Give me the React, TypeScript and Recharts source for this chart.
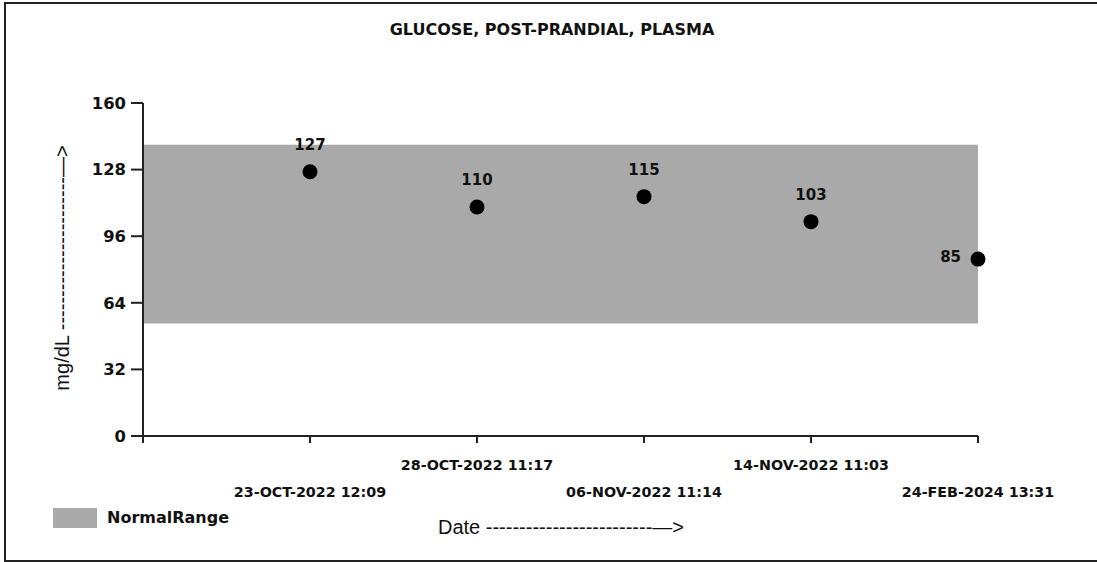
import React from "react";
import { ComposedChart, Scatter, XAxis, YAxis, ReferenceArea } from "recharts";

const chartTitle = "GLUCOSE, POST-PRANDIAL, PLASMA";
const dates = [
  "23-OCT-2022 12:09",
  "28-OCT-2022 11:17",
  "06-NOV-2022 11:14",
  "14-NOV-2022 11:03",
  "24-FEB-2024 13:31",
];
const values = [127, 110, 115, 103, 85];
const normalRange = [54, 140];
const yTicks = [0, 32, 64, 96, 128, 160];
const xTicks = [0, 1, 2, 3, 4, 5];
const yLabel = "mg/dL " + "-".repeat(23) + "—>";
const xLabel = "Date " + "-".repeat(25) + "—>";
const legendLabel = "NormalRange";

const data = dates.map((d, i) => ({ x: i + 1, date: d, value: values[i] }));

const BOLD_FONT = "'DejaVu Sans', Verdana, sans-serif";
const AXIS_FONT = "'Liberation Sans', Arial, sans-serif";
const BAND = "#a9a9a9";
const INK = "#111";

const XTick = (props: any) => {
  const { x, y, payload } = props;
  const v = payload.value;
  if (v < 1 || v > dates.length) return null;
  const lower = v % 2 === 1;
  return (
    <text
      x={x}
      y={y + (lower ? 49 : 22)}
      textAnchor="middle"
      dominantBaseline="central"
      fontFamily={BOLD_FONT}
      fontWeight={700}
      fontSize={14.3}
      fill={INK}
    >
      {dates[v - 1]}
    </text>
  );
};

const Dot = (props: any) => {
  const { cx, cy, payload } = props;
  const last = payload.x === dates.length;
  return (
    <g>
      <circle cx={cx} cy={cy} r={7.5} fill="#000" />
      <text
        x={last ? cx - 17 : cx}
        y={last ? cy - 2 : cy - 27}
        textAnchor={last ? "end" : "middle"}
        dominantBaseline="central"
        fontFamily={BOLD_FONT}
        fontWeight={700}
        fontSize={15}
        fill={INK}
      >
        {payload.value}
      </text>
    </g>
  );
};

export default function App() {
  return (
    <div
      style={{
        position: "absolute",
        left: 0,
        top: 0,
        width: 1097,
        height: 562,
        overflow: "hidden",
        background: "#fff",
      }}
    >
      <div
        style={{
          position: "absolute",
          left: 4,
          top: 2,
          width: 1110,
          height: 556,
          border: "2px solid #222",
        }}
      />
      <div
        style={{
          position: "absolute",
          left: 0,
          top: 20,
          width: 1104,
          textAlign: "center",
          fontFamily: BOLD_FONT,
          fontWeight: 700,
          fontSize: 16,
          lineHeight: "20px",
          color: INK,
        }}
      >
        {chartTitle}
      </div>
      <div
        style={{
          position: "absolute",
          left: 53,
          top: 508,
          display: "flex",
          alignItems: "center",
          height: 20,
        }}
      >
        <div style={{ width: 44, height: 20, background: BAND }} />
        <span
          style={{
            marginLeft: 10,
            fontFamily: BOLD_FONT,
            fontSize: 16,
            fontWeight: 700,
            color: INK,
            lineHeight: "20px",
          }}
        >
          {legendLabel}
        </span>
      </div>
      <div style={{ position: "absolute", left: 0, top: 0 }}>
        <ComposedChart
          width={1097}
          height={562}
          data={data}
          margin={{ top: 103, right: 119, left: 0, bottom: 0 }}
        >
          <ReferenceArea
            x1={0}
            x2={dates.length}
            y1={normalRange[0]}
            y2={normalRange[1]}
            fill={BAND}
            fillOpacity={1}
            stroke="none"
            ifOverflow="visible"
          />
          <XAxis
            dataKey="x"
            type="number"
            domain={[0, dates.length]}
            ticks={xTicks}
            height={126}
            tickSize={7}
            tickMargin={0}
            axisLine={{ stroke: "#222", strokeWidth: 2 }}
            tickLine={{ stroke: "#222", strokeWidth: 2 }}
            tick={<XTick />}
            interval={0}
            label={() => (
              <text
                x={561}
                y={527}
                textAnchor="middle"
                dominantBaseline="central"
                fontFamily={AXIS_FONT}
                fontSize={20}
                fill={INK}
              >
                {xLabel}
              </text>
            )}
          />
          <YAxis
            type="number"
            domain={[0, 160]}
            ticks={yTicks}
            width={143}
            tickSize={12}
            tickMargin={5}
            interval={0}
            axisLine={{ stroke: "#222", strokeWidth: 2 }}
            tickLine={{ stroke: "#222", strokeWidth: 2 }}
            tick={{ fontFamily: BOLD_FONT, fontWeight: 700, fontSize: 16.4, fill: INK }}
            label={() => (
              <text
                x={62}
                y={268}
                transform="rotate(-90, 62, 268)"
                textAnchor="middle"
                dominantBaseline="central"
                fontFamily={AXIS_FONT}
                fontSize={20}
                fill={INK}
              >
                {yLabel}
              </text>
            )}
          />
          <Scatter
            dataKey="value"
            isAnimationActive={false}
            shape={<Dot />}
            legendType="none"
          />
        </ComposedChart>
      </div>
    </div>
  );
}
